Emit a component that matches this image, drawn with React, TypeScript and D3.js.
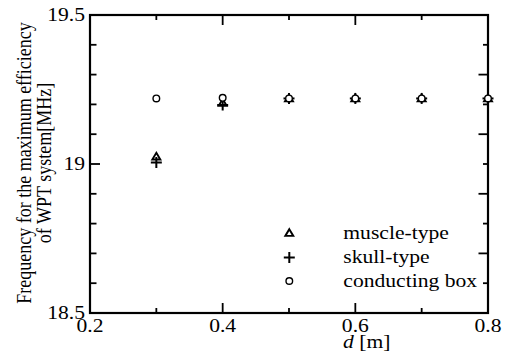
import React from "react";
import * as d3 from "d3";

const dValues = [0.3, 0.4, 0.5, 0.6, 0.7, 0.8];
const muscleType = [19.025, 19.205, 19.22, 19.22, 19.22, 19.22];
const skullType = [19.005, 19.198, 19.22, 19.22, 19.22, 19.22];
const conductingBox = [19.22, 19.222, 19.22, 19.22, 19.22, 19.22];

const xMajorTicks = [0.2, 0.4, 0.6, 0.8];
const xMinorTicks = [0.3, 0.5, 0.7];
const yTickLabels = ["18.5", "19", "19.5"];
const yMajorTicks = [18.5, 19, 19.5];
const yMinorTicks = [18.6, 18.7, 18.8, 18.9, 19.1, 19.2, 19.3, 19.4];
const rightLongTicks = [18.7, 18.9, 19.1, 19.3];
const rightShortTicks = [18.6, 18.8, 19.0, 19.2, 19.4];

const legendItems = ["muscle-type", "skull-type", "conducting box"];
const yLabelLines = ["Frequency for the maximum efficiency", "of WPT system[MHz]"];

const W = 508;
const H = 360;
const left = 90;
const right = 488;
const top = 15;
const bottom = 313;

const FONT = "'Liberation Serif', 'Times New Roman', serif";
const FS = 18;
const SX = 1.2;

const Triangle = ({ x, y }: { x: number; y: number }) => (
  <path
    d={`M${x},${y - 3.8}L${x + 4},${y + 2.9}L${x - 4},${y + 2.9}Z`}
    fill="white"
    stroke="black"
    strokeWidth={1.9}
    strokeLinejoin="miter"
  />
);
const Plus = ({ x, y }: { x: number; y: number }) => (
  <g stroke="black" strokeWidth={2}>
    <line x1={x - 5.5} x2={x + 5.5} y1={y} y2={y} />
    <line x1={x} x2={x} y1={y - 5.5} y2={y + 5.5} />
  </g>
);
const Circle = ({ x, y }: { x: number; y: number }) => (
  <circle cx={x} cy={y} r={3.3} fill="white" stroke="black" strokeWidth={1.4} />
);

export default function App() {
  const x = d3.scaleLinear().domain([0.2, 0.8]).range([left, right]);
  const y = d3.scaleLinear().domain([18.5, 19.5]).range([bottom, top]);

  const text = (
    str: React.ReactNode,
    tx: number,
    ty: number,
    anchor: "start" | "middle" | "end",
    key?: string | number
  ) => (
    <text
      key={key}
      transform={`translate(${tx},${ty}) scale(${SX},1)`}
      textAnchor={anchor}
      fontFamily={FONT}
      fontSize={FS}
      fill="black"
    >
      {str}
    </text>
  );

  return (
    <svg
      width={W}
      height={H}
      style={{ position: "absolute", left: 0, top: 0, background: "white" }}
    >
      <rect x={0} y={0} width={W} height={H} fill="white" />
      {/* ticks */}
      <g stroke="black" strokeWidth={1.8}>
        {xMajorTicks.map((v) => (
          <g key={"xM" + v}>
            <line x1={x(v)} x2={x(v)} y1={bottom} y2={bottom - 10} />
            <line x1={x(v)} x2={x(v)} y1={top} y2={top + 10} />
          </g>
        ))}
        {xMinorTicks.map((v) => (
          <g key={"xm" + v}>
            <line x1={x(v)} x2={x(v)} y1={bottom} y2={bottom - 5} />
            <line x1={x(v)} x2={x(v)} y1={top} y2={top + 5} />
          </g>
        ))}
        {yMajorTicks.map((v) => (
          <line key={"yM" + v} x1={left} x2={left + 10} y1={y(v)} y2={y(v)} />
        ))}
        {yMinorTicks.map((v) => (
          <line key={"ym" + v} x1={left} x2={left + 6.5} y1={y(v)} y2={y(v)} />
        ))}
        {rightLongTicks.map((v) => (
          <line key={"rl" + v} x1={right} x2={right - 9.5} y1={y(v)} y2={y(v)} />
        ))}
        {rightShortTicks.map((v) => (
          <line key={"rs" + v} x1={right} x2={right - 5} y1={y(v)} y2={y(v)} />
        ))}
      </g>
      {/* frame */}
      <rect
        x={left}
        y={top}
        width={right - left}
        height={bottom - top}
        fill="none"
        stroke="black"
        strokeWidth={2.2}
      />
      {/* tick labels */}
      {xMajorTicks.map((v) => text(String(v), x(v), bottom + 18.5, "middle", "xl" + v))}
      {yMajorTicks.map((v, i) => text(yTickLabels[i], left - 5, y(v) + 6, "end", "yl" + v))}
      {/* axis titles */}
      <text
        transform={`translate(343,347.5) scale(${SX},1)`}
        fontFamily={FONT}
        fontSize={FS}
        fill="black"
      >
        <tspan fontStyle="italic">d</tspan> [m]
      </text>
      {yLabelLines.map((line, i) => (
        <text
          key={"yt" + i}
          transform={`translate(${30.5 + i * 20},163) scale(${SX},1) rotate(-90)`}
          textAnchor="middle"
          fontFamily={FONT}
          fontSize={FS}
          fill="black"
        >
          {line}
        </text>
      ))}
      {/* data */}
      {dValues.map((d, i) => (
        <g key={"pt" + i}>
          <Triangle x={x(d)} y={y(muscleType[i])} />
          <Plus x={x(d)} y={y(skullType[i])} />
          <Circle x={x(d)} y={y(conductingBox[i])} />
        </g>
      ))}
      {/* legend */}
      <Triangle x={289.3} y={233} />
      <Plus x={289.3} y={257.5} />
      <Circle x={289.3} y={281} />
      {legendItems.map((s, i) => text(s, 343.3, 239 + i * 24, "start", "lg" + i))}
    </svg>
  );
}
